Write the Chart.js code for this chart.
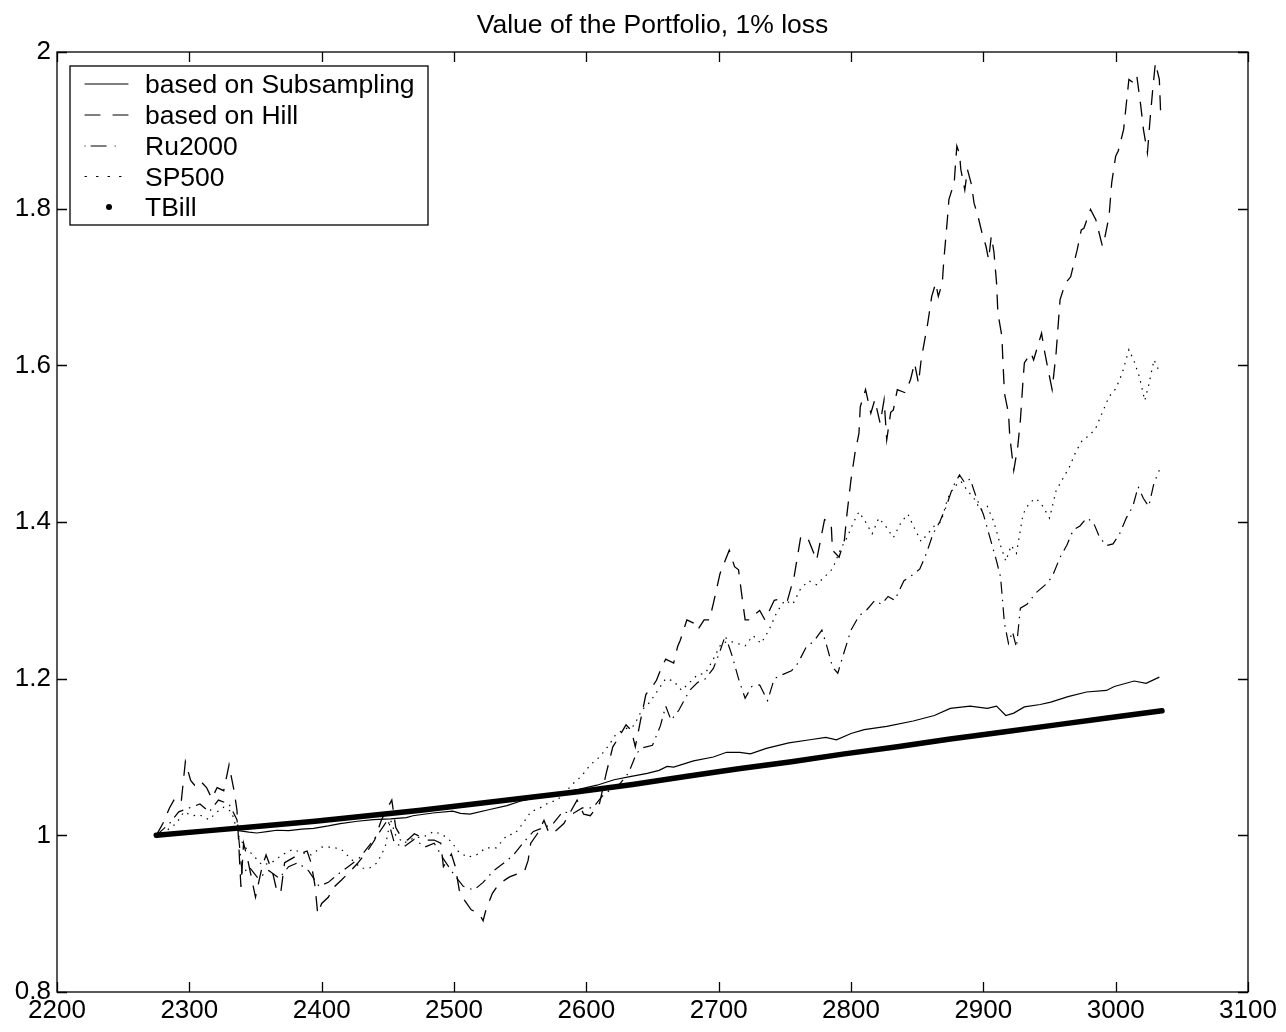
<!DOCTYPE html>
<html>
<head>
<meta charset="utf-8">
<script src="https://cdn.jsdelivr.net/npm/chart.js@4.4.1/dist/chart.umd.min.js"></script>
<style>
  html, body { margin: 0; padding: 0; background: #fff; }
  #wrap { width: 1286px; height: 1032px; }
</style>
</head>
<body>
<div id="wrap"><canvas id="portfolioChart" width="1286" height="1032"></canvas></div>
<script>
const titleText = 'Value of the Portfolio, 1% loss';
const xTicks = [2200, 2300, 2400, 2500, 2600, 2700, 2800, 2900, 3000, 3100];
const yTicks = [0.8, 1, 1.2, 1.4, 1.6, 1.8, 2];
const seriesNames = ['based on Subsampling', 'based on Hill', 'Ru2000', 'SP500', 'TBill'];

// based on Subsampling (solid)
const subX = [2275, 2290, 2305, 2320, 2333, 2345, 2351, 2360, 2366, 2375, 2385, 2394, 2405, 2414, 2427, 2439, 2452, 2464, 2469, 2484,
  2499, 2505, 2512, 2527, 2540, 2550, 2565, 2580, 2595, 2608, 2621, 2633, 2646, 2655, 2661, 2666, 2681, 2696, 2706, 2716,
  2724, 2736, 2753, 2769, 2781, 2789, 2800, 2810, 2827, 2847, 2863, 2875, 2890, 2903, 2910, 2917, 2923, 2931, 2943, 2951,
  2964, 2978, 2993, 2999, 3014, 3023, 3033];
const subY = [1.000, 1.002, 1.004, 1.006, 1.007, 1.004, 1.003, 1.005, 1.0065, 1.006, 1.008, 1.009, 1.012, 1.015, 1.018, 1.020, 1.021, 1.0226, 1.025, 1.0285,
  1.031, 1.028, 1.027, 1.033, 1.038, 1.0435, 1.049, 1.054, 1.059, 1.064, 1.071, 1.075, 1.079, 1.083, 1.088, 1.087, 1.095, 1.100, 1.106, 1.106,
  1.104, 1.111, 1.118, 1.122, 1.125, 1.122, 1.130, 1.135, 1.139, 1.146, 1.153, 1.162, 1.165, 1.162, 1.165, 1.153, 1.156, 1.164, 1.167, 1.170,
  1.177, 1.183, 1.185, 1.190, 1.197, 1.194, 1.202];

// based on Hill (dashed)
const hillX = [2275, 2280, 2285, 2290, 2294, 2297, 2301, 2304, 2308, 2313, 2317, 2321, 2326, 2330, 2334, 2336, 2339, 2341, 2344, 2350,
  2355, 2358, 2363, 2366, 2369, 2372, 2377, 2384, 2389, 2392, 2395, 2397, 2400, 2405, 2410, 2415, 2422, 2427, 2435, 2440,
  2445, 2450, 2453, 2456, 2460, 2465, 2470, 2475, 2480, 2485, 2490, 2492, 2498, 2501, 2504, 2508, 2513, 2519, 2522, 2524,
  2529, 2534, 2542, 2548, 2553, 2556, 2558, 2563, 2568, 2572, 2577, 2583, 2593, 2598, 2603, 2610, 2615, 2620, 2623, 2630,
  2634, 2637, 2641, 2645, 2650, 2653, 2657, 2660, 2666, 2669, 2671, 2676, 2681, 2684, 2689, 2693, 2696, 2701, 2708, 2712,
  2715, 2718, 2720, 2724, 2728, 2731, 2735, 2742, 2747, 2752, 2757, 2762, 2767, 2774, 2780, 2785, 2786, 2791, 2795, 2797,
  2800, 2803, 2806, 2807, 2811, 2815, 2818, 2822, 2825, 2827, 2830, 2832, 2835, 2841, 2845, 2848, 2851, 2853, 2858, 2861,
  2864, 2866, 2869, 2870, 2873, 2874, 2878, 2879, 2880, 2882, 2883, 2886, 2888, 2891, 2893, 2896, 2899, 2902, 2904, 2906,
  2908, 2910, 2911, 2914, 2915, 2916, 2919, 2920, 2923, 2926, 2928, 2930, 2931, 2936, 2938, 2941, 2944, 2946, 2949, 2952,
  2955, 2958, 2962, 2966, 2971, 2974, 2976, 2981, 2985, 2990, 2992, 2995, 2997, 3000, 3002, 3006, 3010, 3014, 3016, 3019,
  3021, 3024, 3026, 3028, 3030, 3033, 3034];
const hillY = [1.000, 1.015, 1.035, 1.050, 1.045, 1.094, 1.070, 1.064, 1.070, 1.061, 1.047, 1.061, 1.057, 1.090, 1.055, 1.032, 0.934, 0.990, 0.970, 0.921,
  0.960, 0.975, 0.952, 0.930, 0.926, 0.965, 0.970, 0.977, 0.980, 0.965, 0.935, 0.900, 0.913, 0.921, 0.935, 0.943, 0.955, 0.964, 0.981, 0.994,
  1.019, 1.036, 1.045, 1.010, 0.998, 0.994, 1.002, 0.998, 0.994, 0.994, 0.990, 0.960, 0.976, 0.960, 0.930, 0.917, 0.905, 0.900, 0.891, 0.904,
  0.926, 0.938, 0.947, 0.951, 0.953, 0.968, 0.990, 1.002, 1.019, 1.002, 1.006, 1.015, 1.045, 1.027, 1.025, 1.041, 1.079, 1.113, 1.121, 1.141,
  1.134, 1.113, 1.147, 1.180, 1.190, 1.198, 1.215, 1.225, 1.220, 1.241, 1.249, 1.275, 1.271, 1.262, 1.275, 1.275, 1.296, 1.334, 1.364, 1.343,
  1.339, 1.300, 1.275, 1.275, 1.283, 1.287, 1.275, 1.300, 1.302, 1.300, 1.330, 1.381, 1.381, 1.351, 1.403, 1.399, 1.364, 1.355, 1.377, 1.411,
  1.454, 1.488, 1.513, 1.547, 1.569, 1.539, 1.556, 1.526, 1.556, 1.505, 1.540, 1.543, 1.569, 1.565, 1.582, 1.603, 1.577, 1.607, 1.654, 1.688,
  1.705, 1.688, 1.705, 1.731, 1.790, 1.812, 1.833, 1.858, 1.880, 1.870, 1.850, 1.824, 1.850, 1.831, 1.807, 1.790, 1.769, 1.752, 1.735, 1.765,
  1.745, 1.705, 1.667, 1.637, 1.598, 1.564, 1.539, 1.509, 1.466, 1.496, 1.530, 1.581, 1.603, 1.616, 1.607, 1.624, 1.641, 1.620, 1.594, 1.569,
  1.616, 1.684, 1.705, 1.713, 1.748, 1.773, 1.775, 1.799, 1.786, 1.752, 1.765, 1.790, 1.833, 1.867, 1.874, 1.901, 1.965, 1.960, 1.969, 1.931,
  1.901, 1.871, 1.914, 1.952, 1.986, 1.965, 1.922];

// Ru2000 (dash-dot)
const ruX = [2275, 2285, 2292, 2300, 2308, 2315, 2322, 2330, 2336, 2340, 2345, 2352, 2360, 2368, 2375, 2382, 2390, 2398, 2405, 2412,
  2420, 2428, 2435, 2442, 2450, 2455, 2462, 2470, 2478, 2485, 2492, 2500, 2507, 2515, 2522, 2530, 2538, 2545, 2552, 2560,
  2568, 2575, 2582, 2590, 2597, 2605, 2612, 2618, 2625, 2632, 2638, 2643, 2650, 2656, 2660, 2664, 2670, 2678, 2684, 2690,
  2696, 2701, 2705, 2710, 2715, 2720, 2725, 2731, 2737, 2742, 2748, 2755, 2760, 2766, 2772, 2778, 2782, 2786, 2790, 2795,
  2800, 2806, 2812, 2818, 2823, 2828, 2833, 2840, 2847, 2852, 2857, 2862, 2867, 2872, 2877, 2882, 2886, 2890, 2895, 2900,
  2905, 2910, 2913, 2916, 2919, 2922, 2925, 2928, 2933, 2940, 2947, 2952, 2958, 2963, 2968, 2973, 2978, 2983, 2988, 2993,
  2998, 3003, 3008, 3013, 3017, 3021, 3025, 3029, 3033];
const ruY = [1.000, 1.015, 1.030, 1.035, 1.040, 1.030, 1.045, 1.040, 1.020, 0.950, 0.960, 0.945, 0.955, 0.945, 0.960, 0.965, 0.955, 0.935, 0.940, 0.950,
  0.960, 0.970, 0.985, 1.000, 1.020, 0.990, 0.985, 0.995, 0.985, 0.990, 0.970, 0.950, 0.935, 0.930, 0.940, 0.955, 0.965, 0.975, 0.990, 1.005,
  1.010, 1.015, 1.030, 1.028, 1.035, 1.035, 1.050, 1.058, 1.065, 1.080, 1.105, 1.112, 1.115, 1.140, 1.165, 1.147, 1.160, 1.185, 1.195, 1.200,
  1.213, 1.235, 1.255, 1.230, 1.200, 1.175, 1.190, 1.192, 1.172, 1.200, 1.205, 1.210, 1.220, 1.240, 1.248, 1.262, 1.240, 1.215, 1.207, 1.235,
  1.262, 1.280, 1.288, 1.300, 1.295, 1.305, 1.300, 1.325, 1.333, 1.340, 1.360, 1.385, 1.400, 1.420, 1.445, 1.460, 1.450, 1.455, 1.430, 1.410,
  1.380, 1.350, 1.330, 1.270, 1.245, 1.260, 1.240, 1.290, 1.295, 1.310, 1.320, 1.330, 1.355, 1.370, 1.390, 1.395, 1.405, 1.400, 1.380, 1.370,
  1.372, 1.385, 1.405, 1.420, 1.445, 1.430, 1.420, 1.450, 1.466];

// SP500 (dotted)
const spX = [2275, 2282, 2290, 2296, 2302, 2308, 2315, 2321, 2326, 2332, 2337, 2342, 2348, 2355, 2362, 2370, 2378, 2385, 2392, 2400,
  2408, 2415, 2422, 2430, 2436, 2442, 2448, 2452, 2456, 2462, 2470, 2477, 2485, 2492, 2498, 2503, 2510, 2517, 2524, 2532,
  2540, 2546, 2552, 2558, 2565, 2572, 2578, 2584, 2590, 2596, 2603, 2610, 2617, 2622, 2628, 2636, 2642, 2648, 2654, 2660,
  2666, 2672, 2678, 2684, 2690, 2696, 2702, 2708, 2714, 2720, 2726, 2732, 2738, 2744, 2750, 2756, 2762, 2768, 2774, 2780,
  2786, 2792, 2797, 2802, 2806, 2811, 2816, 2821, 2826, 2832, 2838, 2843, 2848, 2853, 2858, 2863, 2868, 2873, 2878, 2883,
  2888, 2893, 2898, 2903, 2908, 2913, 2917, 2921, 2925, 2930, 2935, 2940, 2945, 2950, 2955, 2960, 2965, 2970, 2975, 2980,
  2985, 2990, 2995, 3000, 3005, 3010, 3014, 3018, 3022, 3025, 3029, 3033];
const spY = [0.997, 1.005, 1.015, 1.030, 1.025, 1.026, 1.020, 1.030, 1.036, 1.030, 1.000, 0.985, 0.975, 0.962, 0.965, 0.975, 0.982, 0.978, 0.975, 0.985,
  0.985, 0.982, 0.970, 0.958, 0.958, 0.965, 0.985, 1.020, 1.000, 0.990, 0.997, 0.998, 1.005, 1.000, 0.992, 0.980, 0.972, 0.975, 0.984, 0.984,
  1.000, 1.002, 1.015, 1.030, 1.035, 1.042, 1.045, 1.055, 1.066, 1.075, 1.090, 1.100, 1.115, 1.128, 1.135, 1.140, 1.160, 1.170, 1.185, 1.200,
  1.197, 1.185, 1.195, 1.205, 1.207, 1.225, 1.245, 1.248, 1.245, 1.242, 1.255, 1.245, 1.262, 1.285, 1.300, 1.295, 1.315, 1.325, 1.320, 1.330,
  1.340, 1.365, 1.380, 1.400, 1.413, 1.400, 1.385, 1.405, 1.395, 1.380, 1.400, 1.410, 1.392, 1.375, 1.385, 1.395, 1.400, 1.430, 1.445, 1.452,
  1.440, 1.430, 1.415, 1.420, 1.400, 1.370, 1.350, 1.370, 1.360, 1.410, 1.425, 1.430, 1.420, 1.405, 1.440, 1.455, 1.470, 1.490, 1.505, 1.510,
  1.520, 1.540, 1.560, 1.570, 1.590, 1.620, 1.605, 1.585, 1.555, 1.575, 1.607, 1.592];

// TBill (thick dots)
const tbX = [2275, 2315, 2355, 2395, 2435, 2475, 2515, 2555, 2595, 2635, 2675, 2715, 2755, 2795, 2835, 2875, 2915, 2955, 2995, 3035];
const tbY = [1.000, 1.006, 1.012, 1.018, 1.025, 1.032, 1.040, 1.048, 1.056, 1.065, 1.075, 1.085, 1.094, 1.104, 1.113, 1.123, 1.132, 1.141, 1.150, 1.159];

const FONT = '"Liberation Sans", Arial, Helvetica, sans-serif';
const pts = (xs, ys) => xs.map((x, i) => ({ x: x, y: ys[i] }));

const dashes = {
  sub: [],
  hill: [15, 10],
  ru: [12, 6, 1.5, 6],
  sp: [1.5, 5.5]
};

// box, inward ticks, title and MATLAB-style legend
const matlabFrame = {
  id: 'matlabFrame',
  afterDraw(chart) {
    const { ctx, chartArea: a, scales } = chart;
    const sx = scales.x, sy = scales.y;
    ctx.save();
    ctx.strokeStyle = '#000';
    ctx.lineWidth = 1.3;
    ctx.setLineDash([]);
    ctx.strokeRect(a.left, a.top, a.right - a.left, a.bottom - a.top);
    ctx.beginPath();
    xTicks.forEach(t => {
      const p = Math.round(sx.getPixelForValue(t)) + 0.5;
      ctx.moveTo(p, a.bottom); ctx.lineTo(p, a.bottom - 10);
      ctx.moveTo(p, a.top); ctx.lineTo(p, a.top + 10);
    });
    yTicks.forEach(t => {
      const p = Math.round(sy.getPixelForValue(t)) + 0.5;
      ctx.moveTo(a.left, p); ctx.lineTo(a.left + 10, p);
      ctx.moveTo(a.right, p); ctx.lineTo(a.right - 10, p);
    });
    ctx.stroke();

    ctx.fillStyle = '#000';
    ctx.font = '26.5px ' + FONT;
    ctx.textAlign = 'center';
    ctx.textBaseline = 'alphabetic';
    ctx.fillText(titleText, (a.left + a.right) / 2, 33);

    // legend
    const bx = 70, by = 66, bw = 358, bh = 159;
    ctx.fillStyle = '#fff';
    ctx.fillRect(bx, by, bw, bh);
    ctx.strokeRect(bx, by, bw, bh);
    const rows = [84, 115, 146, 176.5, 207];
    const styles = [dashes.sub, [15, 13], [0.1, 6, 15, 9, 0.1, 20], [1.5, 10], null];
    ctx.textAlign = 'left';
    ctx.lineCap = 'round';
    rows.forEach((ry, i) => {
      if (styles[i]) {
        ctx.setLineDash(styles[i]);
        ctx.lineWidth = 1.2;
        ctx.beginPath();
        ctx.moveTo(85, ry); ctx.lineTo(128, ry);
        ctx.stroke();
      } else {
        ctx.fillStyle = '#000';
        ctx.beginPath();
        ctx.arc(109, ry, 3, 0, Math.PI * 2);
        ctx.fill();
      }
      ctx.setLineDash([]);
      ctx.fillStyle = '#000';
      ctx.fillText(seriesNames[i], 145, ry + 9);
    });
    ctx.restore();
  }
};

const lineSet = (label, xs, ys, dash, width, order) => ({
  label: label,
  data: pts(xs, ys),
  borderColor: '#000',
  backgroundColor: '#000',
  borderWidth: width,
  borderDash: dash,
  pointRadius: 0,
  tension: 0,
  fill: false,
  order: order
});

new Chart(document.getElementById('portfolioChart'), {
  type: 'line',
  data: {
    datasets: [
      lineSet(seriesNames[0], subX, subY, dashes.sub, 1.2, 2),
      lineSet(seriesNames[1], hillX, hillY, dashes.hill, 1.3, 3),
      lineSet(seriesNames[2], ruX, ruY, dashes.ru, 1.2, 4),
      lineSet(seriesNames[3], spX, spY, dashes.sp, 1.2, 5),
      Object.assign(lineSet(seriesNames[4], tbX, tbY, [], 5.5, 1), { borderCapStyle: 'round' })
    ]
  },
  options: {
    responsive: false,
    animation: false,
    events: [],
    layout: { padding: { left: 0, right: 38, top: 52, bottom: 0 } },
    plugins: {
      legend: { display: false },
      title: { display: false },
      tooltip: { enabled: false }
    },
    scales: {
      x: {
        type: 'linear',
        min: 2200,
        max: 3100,
        afterBuildTicks: s => { s.ticks = xTicks.map(v => ({ value: v })); },
        afterFit: s => { s.height = 40; },
        grid: { display: false, drawTicks: false },
        border: { display: false },
        ticks: {
          color: '#000',
          font: { family: FONT, size: 26 },
          padding: 3,
          maxRotation: 0,
          callback: v => String(v)
        }
      },
      y: {
        type: 'linear',
        min: 0.8,
        max: 2,
        afterBuildTicks: s => { s.ticks = yTicks.map(v => ({ value: v })); },
        afterFit: s => { s.width = 57; },
        grid: { display: false, drawTicks: false },
        border: { display: false },
        ticks: {
          color: '#000',
          font: { family: FONT, size: 26 },
          padding: 6,
          callback: v => String(+v.toFixed(1))
        }
      }
    }
  },
  plugins: [matlabFrame]
});
</script>
</body>
</html>
